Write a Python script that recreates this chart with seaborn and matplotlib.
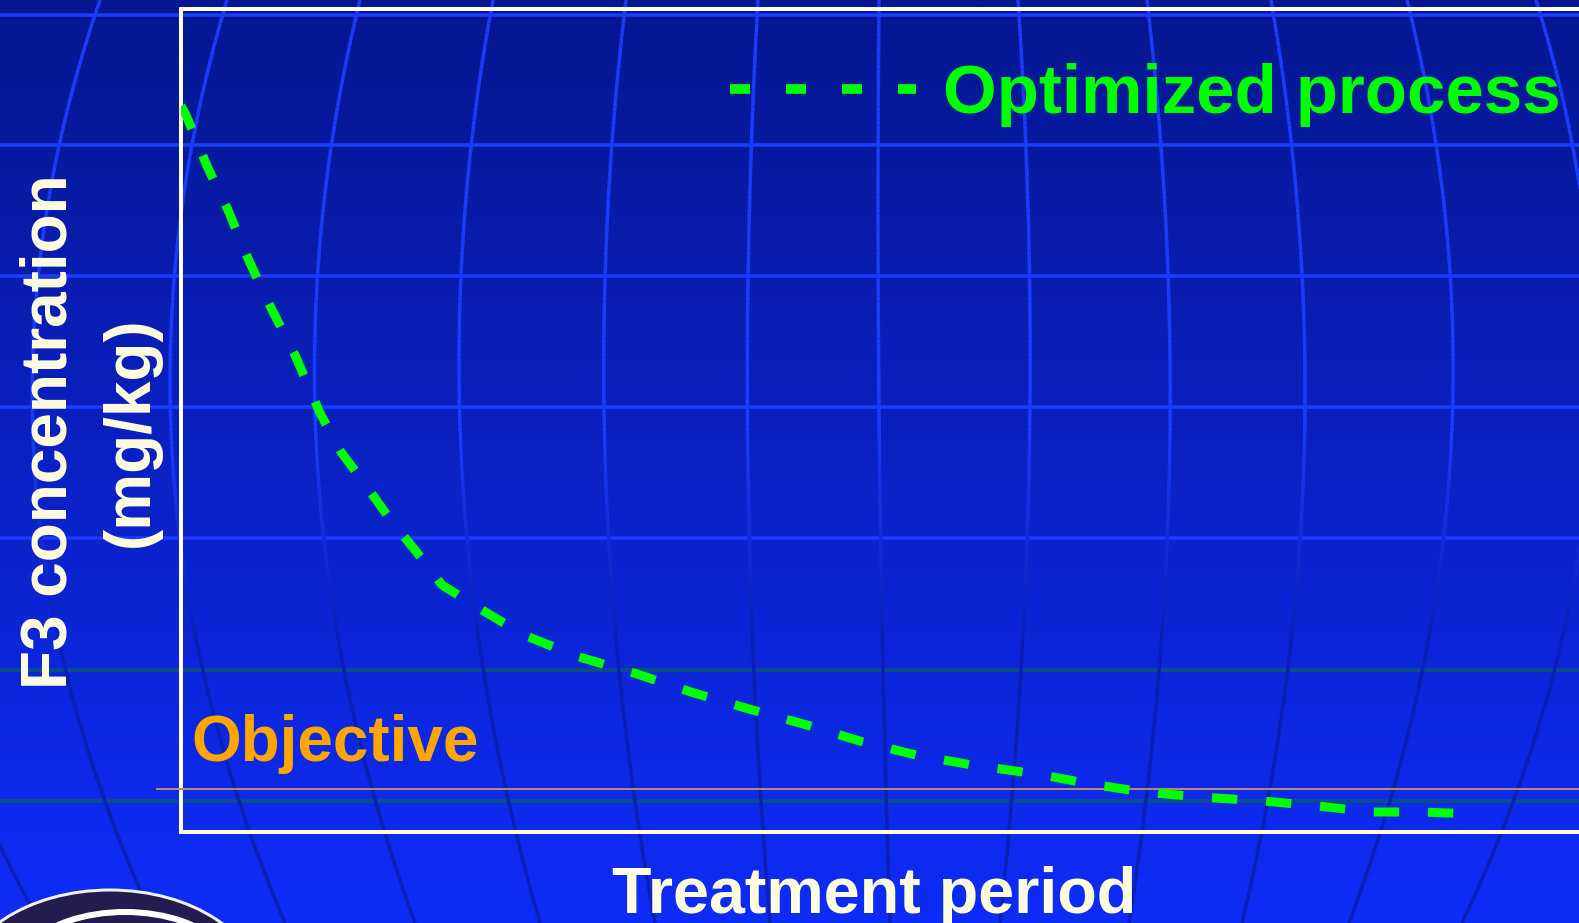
import numpy as np
import pandas as pd
import matplotlib
matplotlib.use("Agg")
import matplotlib.pyplot as plt
from matplotlib.lines import Line2D
from matplotlib.patches import Ellipse, Arc
from matplotlib.collections import LineCollection
import seaborn as sns

# ---- data ---------------------------------------------------------------
# treatment time (days) and F3 concentration (mg/kg) for the optimized process
days = [0.0, 0.5, 2.6, 4.7, 6.5, 8.6, 11.4, 13.9, 16.0, 18.6, 21.1, 23.4,
        26.1, 30.6, 34.3, 39.5, 45.6, 51.3, 56.8, 62.6, 68.2, 73.5, 79.1,
        85.6, 91.0, 96.2, 101.9, 108.2, 113.7, 119.1, 124.0, 129.5]
f3_optimized = [7260, 7170, 6660, 6220, 5780, 5320, 4770, 4190, 3800, 3450,
                3100, 2820, 2470, 2190, 1970, 1760, 1580, 1390, 1230, 1070,
                900, 770, 670, 580, 480, 400, 350, 310, 260, 200, 200, 180]
objective_level = 430  # mg/kg

series_label = "Optimized process"
objective_label = "Objective"
x_title = "Treatment period"
y_title = "F3 concentration\n(mg/kg)"

# ---- style ---------------------------------------------------------------
W, H = 1579, 923
GREEN = "#00ff00"
ORANGE = "#ffa500"
CREAM = "#fffde0"
FONT = "Liberation Sans"
PX = 72 / 100  # points per pixel at dpi=100

plt.rcParams["font.family"] = [FONT, "DejaVu Sans"]
plt.rcParams["font.weight"] = "bold"

fig = plt.figure(figsize=(W / 100, H / 100), dpi=100)

# ---- slide backdrop: vertical gradient with a globe grid -----------------
bg = fig.add_axes([0, 0, 1, 1], zorder=0)
bg.set_xlim(0, W)
bg.set_ylim(H, 0)
bg.axis("off")

top_rgb = np.array([5, 23, 143]) / 255
bot_rgb = np.array([15, 44, 248]) / 255
t = np.linspace(0, 1, 400)[:, None]
grad = top_rgb[None, :] * (1 - t) + bot_rgb[None, :] * t
bg.imshow(grad[:, None, :], extent=[0, W, H, 0], aspect="auto",
          interpolation="bilinear", zorder=0)

# parallels
for yy in [15, 145, 276, 407, 538]:
    bg.plot([0, W], [yy, yy], color="#1a3cff", lw=3.5 * PX, zorder=1)
for yy in [670, 801]:
    bg.plot([0, W], [yy, yy], color="#0b4c88", lw=4 * PX, zorder=1)

# meridians: bright on the dark upper part, darker on the lower part
bright = np.array([27, 60, 255]) / 255
dark = np.array([10, 32, 180]) / 255
m_top = [-30, 100, 227, 360, 493, 626, 758, 879, 1018, 1147, 1271, 1407, 1536]
m_bot = [40, 155, 285, 415, 540, 655, 770, 890, 1000, 1129, 1242, 1349, 1462]
ys = np.linspace(0, H, 200)
for xt, xb in zip(m_top, m_bot):
    xm = 880 + (xt - 880) / 0.92
    coef = np.polyfit([0, 400, H], [xt, xm, xb], 2)
    xs = np.polyval(coef, ys)
    pts = np.column_stack([xs, ys]).reshape(-1, 1, 2)
    segs = np.concatenate([pts[:-1], pts[1:]], axis=1)
    ymid = 0.5 * (ys[:-1] + ys[1:])
    w = np.clip((ymid - 420) / 220, 0, 1)[:, None]
    cols = bright * (1 - w) + dark * w
    bg.add_collection(LineCollection(segs, colors=cols, lw=3.5 * PX,
                                     zorder=1))

# emblem in the lower-left corner
bg.add_patch(Ellipse((110, 990), 300, 200, facecolor="#231c4e",
                     edgecolor="#f2f2ff", lw=3 * PX, zorder=2))
bg.add_patch(Arc((125, 972), 215, 120, theta1=195, theta2=345,
                 color="white", lw=6 * PX, zorder=3))

# ---- chart ---------------------------------------------------------------
left, right, top, bottom = 181, 1590, 9, 832
ax = fig.add_axes([left / W, (H - bottom) / H, (right - left) / W,
                   (bottom - top) / H], zorder=1)
ax.patch.set_alpha(0)

df = pd.DataFrame({"days": days, "f3": f3_optimized})
sns.lineplot(data=df, x="days", y="f3", sort=False, estimator=None,
             color=GREEN, lw=6.5, ax=ax, zorder=4)
line = ax.get_lines()[-1]
line.set_dashes([2.8, 3.2])
line.set_dash_capstyle("butt")

ax.set_xlim(0, (right - left) / 10)
ax.set_ylim(0, (bottom - top) * 10)

# objective threshold
ax.hlines(objective_level, -2.5, (right - left) / 10, colors="#b08d6e",
          lw=2 * PX, clip_on=False, zorder=3)
ax.text(1.0, 710, objective_label, color=ORANGE, fontsize=46,
        fontweight="bold", family=FONT, va="baseline", ha="left")

for sp in ax.spines.values():
    sp.set_color(CREAM)
    sp.set_linewidth(4 * PX)
ax.set_xticks([])
ax.set_yticks([])

ax.set_xlabel(x_title, color=CREAM, fontsize=46.5, fontweight="bold",
              family=FONT)
ax.xaxis.set_label_coords((874.5 - left) / (right - left),
                          (bottom - 866) / (bottom - top))
ax.set_ylabel(y_title, color=CREAM, fontsize=46, fontweight="bold",
              family=FONT, linespacing=1.45, multialignment="center")
ax.yaxis.set_label_coords((161 - left) / (right - left),
                          (bottom - 432) / (bottom - top))

# legend
handle = Line2D([], [], color=GREEN, lw=7, dashes=(2.06, 3.7),
                dash_capstyle="butt")
leg = ax.legend([handle], [series_label], loc="upper left",
                bbox_to_anchor=(730 / W, 1 - 63 / H),
                bbox_transform=fig.transFigure, frameon=False,
                prop=dict(family=FONT, weight="bold", size=49.7),
                handlelength=2.7, handletextpad=0.38,
                borderpad=0, borderaxespad=0)
for txt in leg.get_texts():
    txt.set_color(GREEN)

fig.savefig("out.png", dpi=100)
